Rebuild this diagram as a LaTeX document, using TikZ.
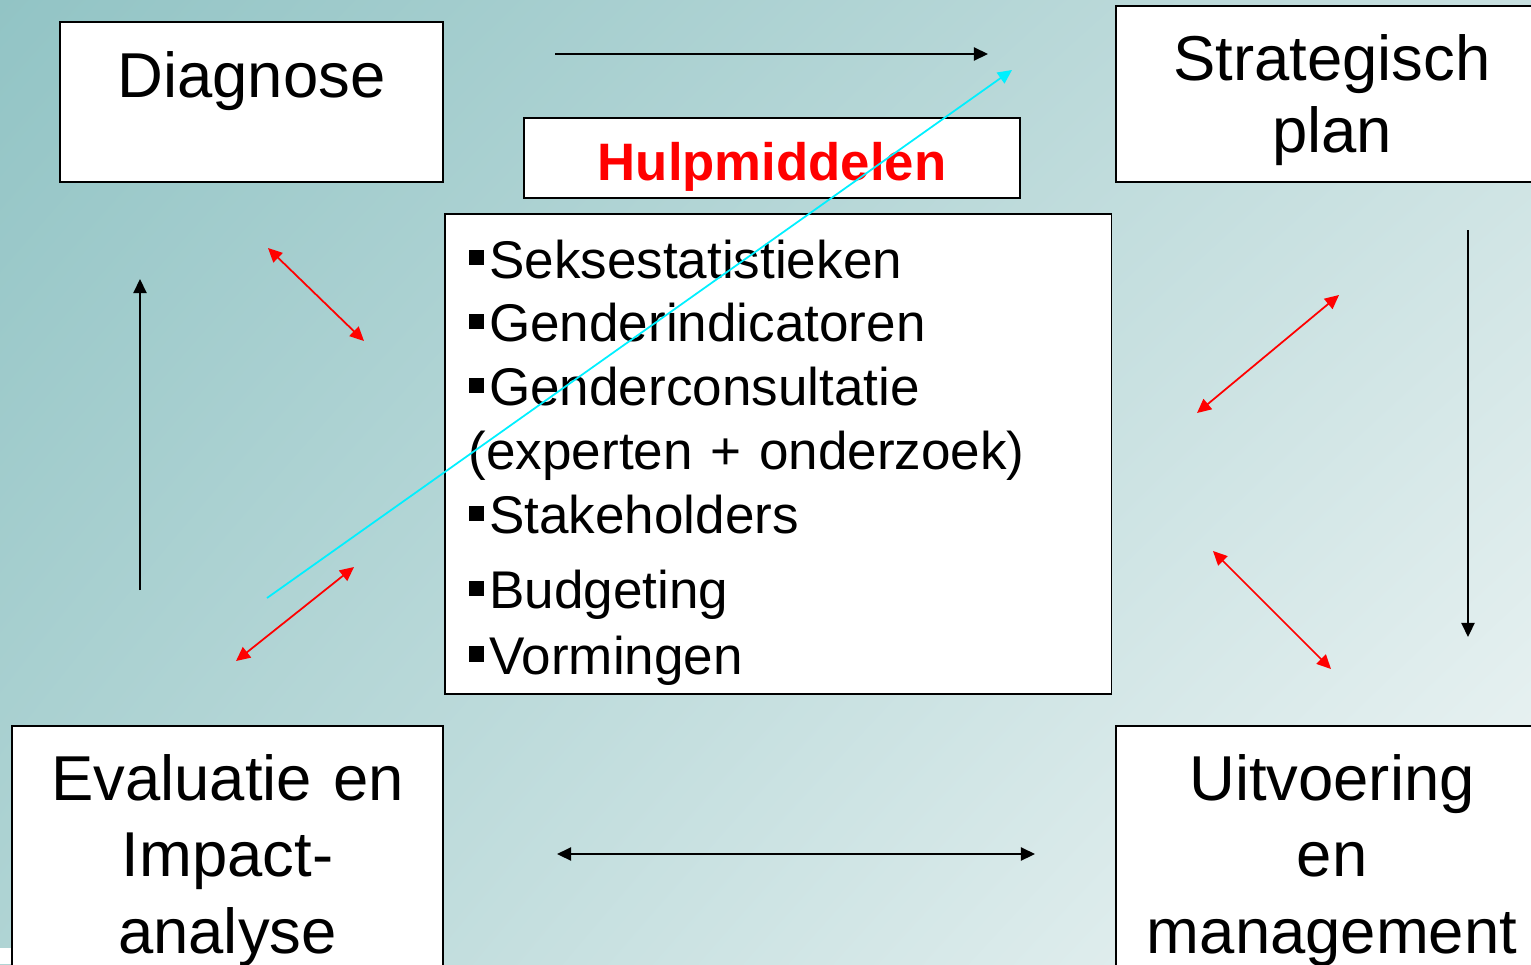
\documentclass[tikz,border=0pt]{standalone}
\usepackage{fontspec}
\setmainfont{Liberation Sans}
\usetikzlibrary{arrows.meta, shadings}
\definecolor{fundoA}{RGB}{146,196,197}
\definecolor{fundoB}{RGB}{200,224,224}
\definecolor{fundoC}{RGB}{176,212,212}
\definecolor{fundoD}{RGB}{240,246,246}
\definecolor{ciano}{RGB}{0,240,255}
\newcommand{\blt}{\rule[7.4pt]{8.6pt}{8.6pt}\hspace{3pt}}

\begin{document}
\begin{tikzpicture}[x=0.02cm, y=-0.02cm, >={Triangle[length=8pt,width=7.5pt]},
					caixa/.style={draw=black, fill=white, line width=0.9pt, inner sep=0pt, align=center, anchor=base},
					grande/.style={font=\fontsize{36.1}{#1}\selectfont}, grande/.default=41.5,
					seta/.style={line width=0.9pt}, dupla/.style={<->, red, line width=1pt} ]
	\clip (0,0) rectangle (1531,964);
	\shade[upper left=fundoA, upper right=fundoB, lower left=fundoC, lower right=fundoD] (0,0) rectangle (1531,964);
	\fill[white] (0,948) rectangle (12,964);
	
	%Caixas:
	\node[caixa, grande, text width=7.66cm, text height=1.5cm, text depth=1.7cm] (D) at (251.5,97) {Diagnose};
	\node[caixa, grande, text width=8.64cm, text height=1.48cm, text depth=2.04cm] (P) at (1332,80) {Strategisch\\plan};
	\node[caixa, grande=43.8, text width=8.62cm, text height=1.48cm, text depth=3.8cm] (E) at (227.5,800) {Evaluatie en\\Impact-\\analyse};
	\node[caixa, grande=43.8, text width=8.64cm, text height=1.48cm, text depth=3.8cm] (U) at (1332,800) {Uitvoering\\en\\management};
	\node[caixa, text width=9.92cm, text height=1.24cm, text depth=0.36cm, text=red, font=\fontsize{30}{36}\selectfont\bfseries] (H) at (772,180) {Hulpmiddelen};
	\node[caixa, anchor=base west, align=left, inner xsep=0.48cm, text width=12.38cm, text height=1.28cm, text depth=8.32cm,
		font=\fontsize{30.2}{36.4}\selectfont] (L) at (444,278)
		{\blt Seksestatistieken\\\blt Genderindicatoren\\\blt Genderconsultatie\\(experten + onderzoek)\\\blt Stakeholders\\[6.3pt]\blt Budgeting\\[1pt]\blt Vormingen};
	
	%Pontas das setas:
	\coordinate (t1) at (555,54);   \coordinate (t2) at (988,54);
	\coordinate (b1) at (557,854);  \coordinate (b2) at (1035,854);
	\coordinate (e1) at (140,590);  \coordinate (e2) at (140,279);
	\coordinate (d1) at (1468,230); \coordinate (d2) at (1468,637);
	\coordinate (r1) at (268,248);  \coordinate (r2) at (364,341);
	\coordinate (r3) at (1197,413); \coordinate (r4) at (1339,295);
	\coordinate (r5) at (1213,551); \coordinate (r6) at (1331,669);
	\coordinate (r7) at (236,661);  \coordinate (r8) at (354,567);
	\coordinate (c1) at (267,598);  \coordinate (c2) at (1012,70);
	
	%Setas:
	\draw[seta, ->] (t1) -- (t2);
	\draw[seta, <->] (b1) -- (b2);
	\draw[seta, ->] (e1) -- (e2);
	\draw[seta, ->] (d1) -- (d2);
	\draw[dupla] (r1) -- (r2);
	\draw[dupla] (r3) -- (r4);
	\draw[dupla] (r5) -- (r6);
	\draw[dupla] (r7) -- (r8);
	\draw[->, ciano, line width=1pt] (c1) -- (c2);
\end{tikzpicture}
\end{document}
